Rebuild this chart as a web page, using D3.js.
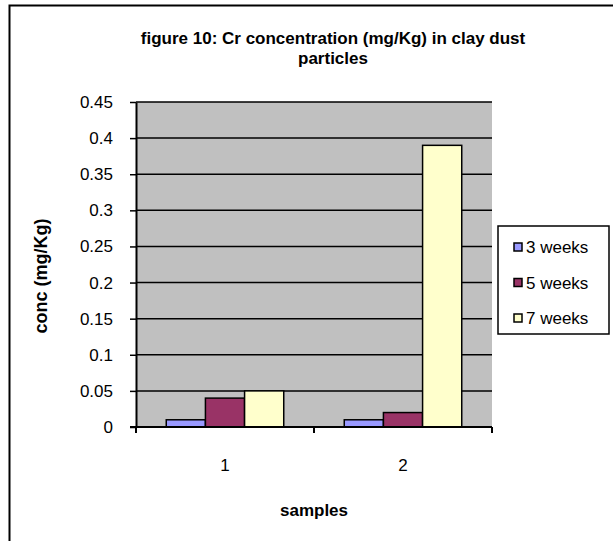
<!DOCTYPE html>
<meta charset="utf-8">
<head>
  <title>figure 10</title>
</head>
<style>
body {
  margin: 0;
  font-family: "Liberation Sans", Arial, sans-serif;
  background: #fff;
}
text {
  fill: #000;
}
</style>
<body>
  <svg width="613" height="541"></svg>

  <script src="https://cdnjs.cloudflare.com/ajax/libs/d3/7.8.5/d3.min.js"></script>
  <script>
  var samples = ['1', '2'];
  var seriesNames = ['3 weeks', '5 weeks', '7 weeks'];
  var week3 = [0.01, 0.01];
  var week5 = [0.04, 0.02];
  var week7 = [0.05, 0.39];
  var yTicks = [0, 0.05, 0.1, 0.15, 0.2, 0.25, 0.3, 0.35, 0.4, 0.45];
  var colours = ['#9999FF', '#993366', '#FFFFCC'];

  var series = [week3, week5, week7];

  var svg = d3.select('svg');

  // outer chart border (right/bottom run off the page)
  svg.append('rect')
    .attr('x', 9.5).attr('y', 5.5)
    .attr('width', 640).attr('height', 560)
    .attr('fill', 'none')
    .attr('stroke', '#000')
    .attr('stroke-width', 2);

  var plotL = 136, plotR = 492, plotT = 102, plotB = 427;

  var x0 = d3.scaleBand()
    .domain(samples)
    .range([plotL, plotR])
    .paddingInner(0.34)
    .paddingOuter(0.17);

  var x1 = d3.scaleBand()
    .domain(seriesNames)
    .range([0, x0.bandwidth()]);

  var y = d3.scaleLinear()
    .domain([0, 0.45])
    .range([plotB, plotT]);

  // plot area
  svg.append('rect')
    .attr('x', plotL).attr('y', plotT)
    .attr('width', plotR - plotL).attr('height', plotB - plotT)
    .attr('fill', '#C0C0C0');

  // gridlines
  svg.append('g')
    .selectAll('line')
    .data(yTicks.slice(1))
    .enter()
    .append('line')
    .attr('x1', plotL).attr('x2', plotR)
    .attr('y1', function(d) { return y(d); })
    .attr('y2', function(d) { return y(d); })
    .attr('stroke', '#000')
    .attr('stroke-width', 1.5);

  // bars
  svg.append('g')
    .selectAll('g')
    .data(series)
    .enter()
    .append('g')
    .attr('fill', function(d, i) { return colours[i]; })
    .each(function(vals, si) {
      d3.select(this)
        .selectAll('rect')
        .data(vals)
        .enter()
        .append('rect')
        .attr('x', function(d, i) { return x0(samples[i]) + x1(seriesNames[si]); })
        .attr('y', function(d) { return y(d); })
        .attr('width', x1.bandwidth())
        .attr('height', function(d) { return y(0) - y(d); })
        .attr('stroke', '#000')
        .attr('stroke-width', 1.5);
    });

  // y axis
  var yAxis = d3.axisLeft(y)
    .tickValues(yTicks)
    .tickFormat(function(d) { return String(+d.toFixed(2)); })
    .tickSize(6)
    .tickPadding(17)
    .tickSizeOuter(0);

  svg.append('g')
    .attr('transform', 'translate(' + plotL + ',0)')
    .call(yAxis)
    .call(function(g) {
      g.select('.domain').attr('stroke', '#000').attr('stroke-width', 2);
      g.selectAll('.tick line').attr('stroke', '#000').attr('stroke-width', 1.5);
      g.selectAll('text')
        .style('font-size', '17px')
        .style('font-family', '"Liberation Sans", Arial, sans-serif')
        .attr('fill', '#000');
    });

  // x axis
  var xEdges = d3.scaleLinear().domain([0, 2]).range([plotL, plotR]);

  svg.append('line')
    .attr('x1', plotL - 6).attr('x2', plotR)
    .attr('y1', plotB).attr('y2', plotB)
    .attr('stroke', '#000').attr('stroke-width', 2);

  svg.append('g')
    .selectAll('line')
    .data([0, 1, 2])
    .enter()
    .append('line')
    .attr('x1', function(d) { return xEdges(d); })
    .attr('x2', function(d) { return xEdges(d); })
    .attr('y1', plotB).attr('y2', plotB + 6)
    .attr('stroke', '#000').attr('stroke-width', 2);

  svg.append('g')
    .selectAll('text')
    .data(samples)
    .enter()
    .append('text')
    .attr('x', function(d) { return x0(d) + x0.bandwidth() / 2; })
    .attr('y', 471)
    .attr('text-anchor', 'middle')
    .style('font-size', '17px')
    .text(function(d) { return d; });

  // titles
  svg.append('text')
    .attr('x', 333).attr('y', 44)
    .attr('text-anchor', 'middle')
    .style('font-size', '17px').style('font-weight', 'bold')
    .text('figure 10: Cr concentration (mg/Kg) in clay dust');
  svg.append('text')
    .attr('x', 333).attr('y', 64)
    .attr('text-anchor', 'middle')
    .style('font-size', '17px').style('font-weight', 'bold')
    .text('particles');

  svg.append('text')
    .attr('x', 314).attr('y', 516)
    .attr('text-anchor', 'middle')
    .style('font-size', '17px').style('font-weight', 'bold')
    .text('samples');

  svg.append('text')
    .attr('transform', 'translate(47,276) rotate(-90)')
    .attr('text-anchor', 'middle')
    .style('font-size', '18px').style('font-weight', 'bold')
    .text('conc (mg/Kg)');

  // legend
  var legend = svg.append('g').attr('transform', 'translate(498,226)');
  legend.append('rect')
    .attr('width', 111).attr('height', 108)
    .attr('fill', '#fff')
    .attr('stroke', '#000').attr('stroke-width', 1.5);

  var items = legend.selectAll('g.item')
    .data(seriesNames)
    .enter()
    .append('g')
    .classed('item', true)
    .attr('transform', function(d, i) { return 'translate(0,' + (21 + i * 35.5) + ')'; });

  items.append('rect')
    .attr('x', 16).attr('y', -4)
    .attr('width', 8).attr('height', 8)
    .attr('fill', function(d, i) { return colours[i]; })
    .attr('stroke', '#000').attr('stroke-width', 1.5);

  items.append('text')
    .attr('x', 28).attr('y', 6)
    .style('font-size', '17px')
    .text(function(d) { return d; });
  </script>
</body>
</html>
